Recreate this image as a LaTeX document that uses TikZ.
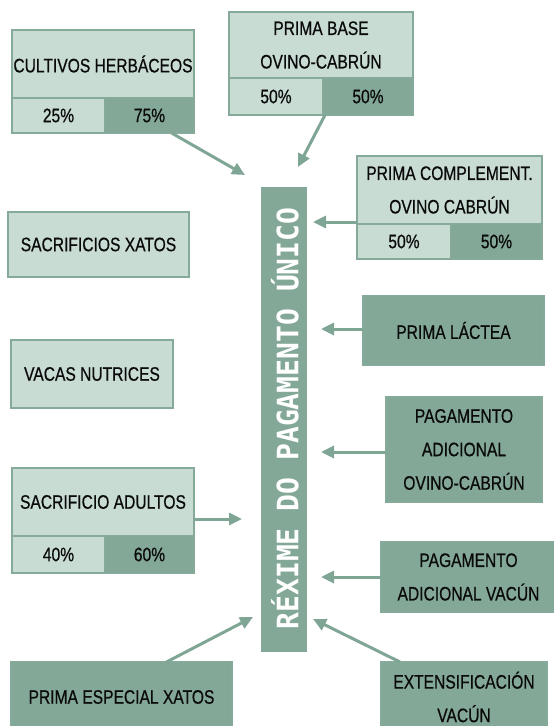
\documentclass[tikz,border=0pt]{standalone}
\usepackage{fontspec}
\setmainfont{Liberation Sans}[FakeStretch=0.8,FakeBold=0.6]
\newfontfamily\barfont{DejaVu Sans Mono}[FakeStretch=0.95]
\usetikzlibrary{arrows.meta}
\definecolor{lt}{HTML}{C8DCD4}
\definecolor{dk}{HTML}{84A898}
\definecolor{bd}{HTML}{86AA9A}
\definecolor{ar}{HTML}{7FA595}
\definecolor{tx}{HTML}{0A0A0A}
\tikzset{
  lbox/.style={draw=bd, line width=2.2pt, fill=lt, inner sep=0pt, outer sep=0pt, anchor=north west, align=center, text=tx, font=\fontsize{19.5}{33.5}\selectfont},
  dbox/.style={lbox, fill=dk},
  arr/.style={draw=ar, line width=3pt, -{Triangle[length=13pt,width=12pt]}},
}
\begin{document}
\begin{tikzpicture}[x=1pt,y=-1pt]
\useasboundingbox (0,0) rectangle (554,726);
% central bar
\node[draw=dk, fill=dk, line width=1pt, minimum width=45pt, minimum height=464pt, inner sep=0pt] (bar) at (283.5,419) {};
\node[rotate=90, text=white, inner sep=0pt, font=\barfont\bfseries\fontsize{29.5}{30}\selectfont] (bartext) at (285,418.5) {RÉXIME DO PAGAMENTO ÚNICO};
% cultivos herbaceos
\node[lbox, minimum width=182pt, minimum height=68pt] (ch) at (12,30) {CULTIVOS HERBÁCEOS};
\node[lbox, minimum width=93pt, minimum height=35pt] (ch1) at (12,98) {25\%};
\node[dbox, minimum width=89pt, minimum height=35pt] (ch2) at (105,98) {75\%};
% prima base
\node[lbox, minimum width=184pt, minimum height=66pt] (pb) at (229,12) {PRIMA BASE\\OVINO-CABRÚN};
\node[lbox, minimum width=94pt, minimum height=37pt] (pb1) at (229,78) {50\%};
\node[dbox, minimum width=90pt, minimum height=37pt] (pb2) at (323,78) {50\%};
% prima complement
\node[lbox, minimum width=185pt, minimum height=68pt] (pc) at (357,156) {PRIMA COMPLEMENT.\\OVINO CABRÚN};
\node[lbox, minimum width=94pt, minimum height=35pt] (pc1) at (357,224) {50\%};
\node[dbox, minimum width=91pt, minimum height=35pt] (pc2) at (451,224) {50\%};
% left simple boxes
\node[lbox, minimum width=181pt, minimum height=65pt] (sx) at (8,212) {SACRIFICIOS XATOS};
\node[lbox, minimum width=162pt, minimum height=68pt] (vn) at (11,340) {VACAS NUTRICES};
% sacrificio adultos
\node[lbox, minimum width=182pt, minimum height=68pt] (sa) at (12,468) {SACRIFICIO ADULTOS};
\node[lbox, minimum width=93pt, minimum height=37pt] (sa1) at (12,536) {40\%};
\node[dbox, minimum width=89pt, minimum height=37pt] (sa2) at (105,536) {60\%};
% prima especial xatos
\node[dbox, minimum width=221pt, minimum height=70pt] (pe) at (11,662) {PRIMA ESPECIAL XATOS};
% right dark boxes
\node[dbox, minimum width=181pt, minimum height=69pt] (pl) at (363,296) {PRIMA LÁCTEA};
\node[dbox, minimum width=156pt, minimum height=105pt] (po) at (386,397) {PAGAMENTO\\ADICIONAL\\OVINO-CABRÚN};
\node[dbox, minimum width=175pt, minimum height=70pt] (pv) at (381,542) {PAGAMENTO\\ADICIONAL VACÚN};
\node[dbox, minimum width=166pt, minimum height=70pt] (ev) at (381,662) {EXTENSIFICACIÓN\\VACÚN};
% arrow start points
\coordinate (s3) at (357,222);
\coordinate (s4) at (363,329);
\coordinate (s5) at (386,452);
\coordinate (s6) at (381,577);
\coordinate (s9) at (194,519);
% arrow tips
\coordinate (t1) at (245,175);
\coordinate (t2) at (298,167);
\coordinate (t3) at (313,222);
\coordinate (t4) at (321,329);
\coordinate (t5) at (321,452);
\coordinate (t6) at (321,577);
\coordinate (t7) at (313,619);
\coordinate (t8) at (253,617);
\coordinate (t9) at (242,519);
% arrows
\draw[arr] ([xshift=22pt]ch2.south) -- (t1);
\draw[arr] ([xshift=2pt]pb2.south west) -- (t2);
\draw[arr] (s3) -- (t3);
\draw[arr] (s4) -- (t4);
\draw[arr] (s5) -- (t5);
\draw[arr] (s6) -- (t6);
\draw[arr] ([xshift=-64pt]ev.north) -- (t7);
\draw[arr] ([xshift=45pt]pe.north) -- (t8);
\draw[arr] (s9) -- (t9);
\end{tikzpicture}
\end{document}
